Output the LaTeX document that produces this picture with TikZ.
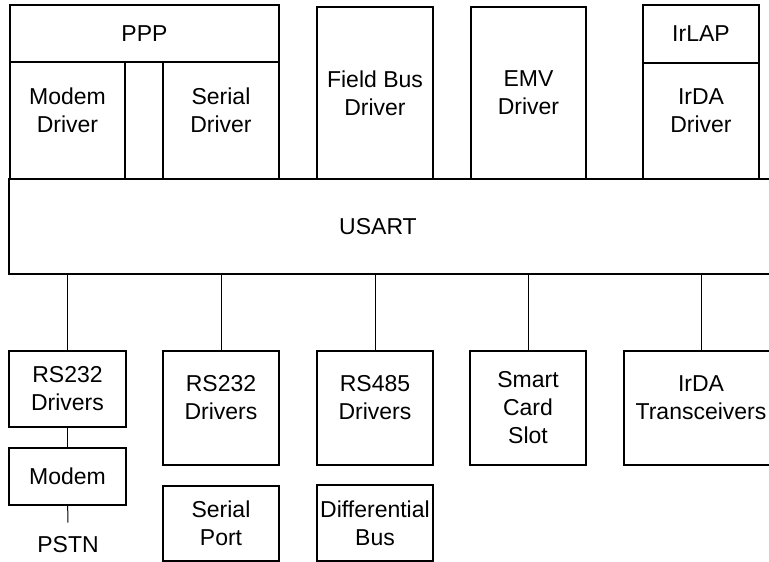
\documentclass[tikz,border=0pt]{standalone}
\usepackage{fontspec}
\setmainfont{Liberation Sans}
\usepackage{tikz}

\begin{document}
\begin{tikzpicture}[x=1pt,y=-1pt,
        box/.style={draw,rectangle,line width=2pt,inner sep=0pt,align=center,
          font=\fontsize{23}{28}\selectfont},
        lift/.style={text depth=21pt},
        wire/.style={line width=1pt}]
        \useasboundingbox (0,0) rectangle (769,562);
        \clip (0,0) rectangle (769,562);
        % upper stack
        \node[box,minimum width=269pt,minimum height=57pt] (ppp) at (144.5,33.5) {PPP};
        \node[box,lift,minimum width=115pt,minimum height=117pt] (modemdrv) at (67.5,120.5) {Modem\\Driver};
        \node[box,minimum width=38pt,minimum height=117pt] (gap) at (144,120.5) {};
        \node[box,lift,minimum width=116pt,minimum height=117pt] (serialdrv) at (221,120.5) {Serial\\Driver};
        \node[box,minimum width=116pt,minimum height=172pt] (fieldbus) at (375,93) {Field Bus\\Driver};
        \node[box,minimum width=115pt,minimum height=172pt] (emv) at (528.5,93) {EMV\\Driver};
        \node[box,minimum width=116pt,minimum height=58pt] (irlap) at (701,34) {IrLAP};
        \node[box,lift,minimum width=116pt,minimum height=116pt] (irdadrv) at (701,121) {IrDA\\Driver};
        \node[box,minimum width=764pt,minimum height=95pt,
          label={[font=\fontsize{23}{28}\selectfont,xshift=-13pt]center:USART}] (usart) at (391,226.5) {};
        % lower row
        \node[box,minimum width=117pt,minimum height=76pt] (rsa) at (67.5,389) {RS232\\Drivers};
        \node[box,minimum width=117pt,minimum height=57pt] (modem) at (67.5,476.5) {Modem};
        \node[font=\fontsize{23}{28}\selectfont,inner sep=2pt] (pstn) at (68,545) {PSTN};
        \node[box,lift,minimum width=116pt,minimum height=114pt] (rsb) at (221,408) {RS232\\Drivers};
        \node[box,minimum width=116pt,minimum height=75pt] (serport) at (221,523.5) {Serial\\Port};
        \node[box,lift,minimum width=116pt,minimum height=114pt] (rs485) at (375,408) {RS485\\Drivers};
        \node[box,minimum width=116pt,minimum height=76pt] (diffbus) at (375,523) {Differential\\Bus};
        \node[box,minimum width=116pt,minimum height=114pt] (smart) at (528,408) {Smart\\Card\\Slot};
        \node[box,lift,minimum width=154pt,minimum height=114pt] (irdatr) at (701,408) {IrDA\\Transceivers};
        % connectors
        \foreach \n in {rsa,rsb,rs485,smart,irdatr}
          \draw[wire] (\n.north) -- (\n.north |- usart.south);
        \draw[wire] (rsa) -- (modem);
        \draw[wire,shorten >=12pt] (modem) -- (pstn);
      \end{tikzpicture}
\end{document}
